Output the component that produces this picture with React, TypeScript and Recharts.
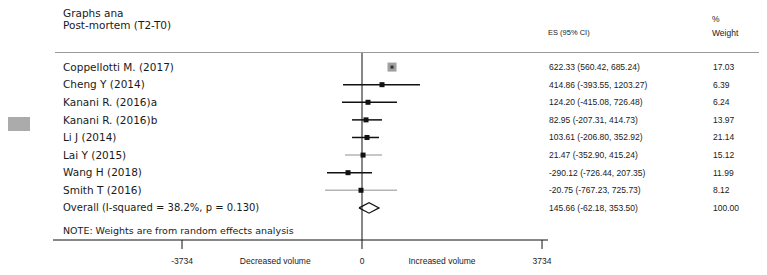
import React from "react";
import {
  ScatterChart,
  Scatter,
  XAxis,
  YAxis,
  ErrorBar,
  ReferenceLine,
  LabelList,
} from "recharts";

const studies = [
  "Coppellotti M. (2017)",
  "Cheng Y (2014)",
  "Kanani R. (2016)a",
  "Kanani R. (2016)b",
  "Li J (2014)",
  "Lai Y (2015)",
  "Wang H (2018)",
  "Smith T (2016)",
];
const estimates = [622.33, 414.86, 124.2, 82.95, 103.61, 21.47, -290.12, -20.75];
const lower = [560.42, -393.55, -415.08, -207.31, -206.8, -352.9, -726.44, -767.23];
const upper = [685.24, 1203.27, 726.48, 414.73, 352.92, 415.24, 207.35, 725.73];
const weights = [17.03, 6.39, 6.24, 13.97, 21.14, 15.12, 11.99, 8.12];

const overallLabel = "Overall  (I-squared = 38.2%, p = 0.130)";
const overallEst = 145.66;
const overallLower = -62.18;
const overallUpper = 353.5;
const overallWeight = 100.0;

const noteText = "NOTE: Weights are from random effects analysis";
const axisTicks = [-3734, 0, 3734];
const directionLabels = ["Decreased volume", "Increased volume"];
const directionAt = [-1800, 1660];

// rows drawn with a grey CI line
const LIGHT_ROWS = [5, 7];

const FONT = "'Liberation Sans', Arial, sans-serif";
const WIDE = "'DejaVu Sans', Verdana, sans-serif";

const rows = studies.map((name, i) => ({
  row: i,
  est: estimates[i],
  err: [estimates[i] - lower[i], upper[i] - estimates[i]],
}));
const darkRows = rows.filter((r) => !LIGHT_ROWS.includes(r.row));
const lightRows = rows.filter((r) => LIGHT_ROWS.includes(r.row));

const OVERALL_ROW = studies.length;
const NOTE_ROW = OVERALL_ROW + 1.3;
const diamond = [
  { est: overallLower, row: OVERALL_ROW },
  { est: overallEst, row: OVERALL_ROW - 0.3 },
  { est: overallUpper, row: OVERALL_ROW },
  { est: overallEst, row: OVERALL_ROW + 0.3 },
  { est: overallLower, row: OVERALL_ROW },
];

// one invisible point per text row, used only to place the table text
const textRows = studies
  .map((_, i) => ({ row: i, est: 0 }))
  .concat([{ row: OVERALL_ROW, est: 0 }, { row: NOTE_ROW, est: 0 }]);

const fmt = (v: number) => v.toFixed(2);
const ciText = (e: number, l: number, u: number) => `${fmt(e)} (${fmt(l)}, ${fmt(u)})`;

const StudyMarker = (p: any) => {
  const { cx, cy, payload } = p;
  if (payload.row === 0) {
    return (
      <g>
        <rect x={cx - 4.5} y={cy - 4.5} width={9} height={9} fill="#a0a0a0" />
        <rect x={cx - 1.5} y={cy - 1.5} width={3} height={3} fill="#333" />
      </g>
    );
  }
  return <rect x={cx - 2.5} y={cy - 2.5} width={5} height={5} fill="#111" />;
};

const Empty = () => <g />;

const RowText = (p: any) => {
  const { y, height, index } = p;
  const cy = y + (height || 0) / 2;
  const t = textRows[index];
  if (!t) return null;
  const v = t.row;
  const right = { fontSize: 8.5, fontFamily: FONT, fill: "#1a1a1a", dy: "0.35em" };
  if (v === NOTE_ROW) {
    return (
      <text x={63} y={cy} dy="0.35em" fontSize={9.5} fontFamily={WIDE} fill="#1a1a1a">
        {noteText}
      </text>
    );
  }
  const isOverall = v === OVERALL_ROW;
  const name = isOverall ? overallLabel : studies[v];
  const ci = isOverall
    ? ciText(overallEst, overallLower, overallUpper)
    : ciText(estimates[v], lower[v], upper[v]);
  const w = isOverall ? overallWeight : weights[v];
  return (
    <g>
      <text x={63} y={cy} dy="0.35em" fontSize={isOverall ? 10 : 10.5} fontFamily={WIDE} fill="#1a1a1a">
        {name}
      </text>
      <text x={549} y={cy} {...right}>
        {ci}
      </text>
      <text x={713} y={cy} {...right}>
        {fmt(w)}
      </text>
    </g>
  );
};

const BottomTick = (p: any) => {
  const { x, y, payload } = p;
  const v = payload.value;
  const di = directionAt.indexOf(v);
  if (di >= 0) {
    return (
      <text x={x} y={y + 24} textAnchor="middle" fontSize={8.5} fontFamily={FONT} fill="#222">
        {directionLabels[di]}
      </text>
    );
  }
  return (
    <g>
      <line x1={x} x2={x} y1={y} y2={y + 9} stroke="#111" />
      <text x={x} y={y + 24} textAnchor="middle" fontSize={8.5} fontFamily={FONT} fill="#222">
        {v}
      </text>
    </g>
  );
};

const txt: React.CSSProperties = {
  position: "absolute",
  fontFamily: FONT,
  fontSize: 8.5,
  color: "#1a1a1a",
  lineHeight: "10px",
  whiteSpace: "nowrap",
};

export default function App() {
  return (
    <div style={{ position: "relative", width: 767, height: 275, margin: "-8px 0 0 -8px", background: "#fff" }}>
      <div style={{ position: "absolute", left: 0, top: 117, width: 30, height: 14, background: "#ababab" }} />
      <div style={{ ...txt, left: 63, top: 7, fontFamily: WIDE, fontSize: 10.5, lineHeight: "12px" }}>Graphs ana</div>
      <div style={{ ...txt, left: 63, top: 19, fontFamily: WIDE, fontSize: 10.5, lineHeight: "12px" }}>
        Post-mortem (T2-T0)
      </div>
      <div style={{ ...txt, left: 548, top: 28, fontSize: 7.5 }}>ES (95% CI)</div>
      <div style={{ ...txt, left: 712, top: 14 }}>%</div>
      <div style={{ ...txt, left: 712, top: 28 }}>Weight</div>
      <div style={{ position: "absolute", left: 55, top: 52, width: 712, borderTop: "1px solid #9a9a9a" }} />
      <ScatterChart
        width={767}
        height={275}
        margin={{ top: 53, right: 219, bottom: 0, left: 53 }}
      >
        <XAxis
          type="number"
          dataKey="est"
          domain={[-6410, 3858]}
          ticks={[axisTicks[0], directionAt[0], axisTicks[1], directionAt[1], axisTicks[2]]}
          interval={0}
          height={35}
          tickLine={false}
          tickSize={0}
          tickMargin={0}
          axisLine={{ stroke: "#111" }}
          tick={<BottomTick />}
          allowDataOverflow
        />
        <YAxis
          type="number"
          dataKey="row"
          domain={[-0.8, 9.825]}
          reversed
          width={0}
          hide
          allowDataOverflow
        />
        <ReferenceLine x={0} stroke="#111" strokeWidth={1} />
        <Scatter data={textRows} shape={<Empty />} isAnimationActive={false}>
          <LabelList dataKey="row" content={<RowText />} />
        </Scatter>
        <Scatter data={darkRows} shape={<StudyMarker />} isAnimationActive={false}>
          <ErrorBar dataKey="err" direction="x" width={0} stroke="#111" strokeWidth={1.5} />
        </Scatter>
        <Scatter data={lightRows} shape={<StudyMarker />} isAnimationActive={false}>
          <ErrorBar dataKey="err" direction="x" width={0} stroke="#b5b5b5" strokeWidth={1.5} />
        </Scatter>
        <Scatter
          data={diamond}
          line={{ stroke: "#111", strokeWidth: 1.2 }}
          shape={<Empty />}
          isAnimationActive={false}
        />
      </ScatterChart>
    </div>
  );
}
